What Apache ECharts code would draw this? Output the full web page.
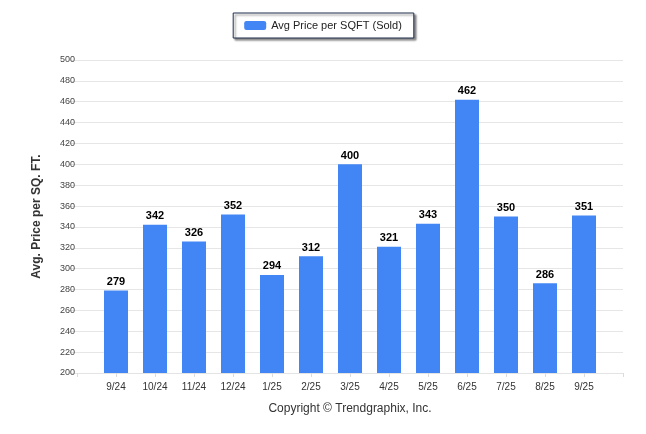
<!DOCTYPE html>
<html>
<head>
<meta charset="utf-8">
<script src="https://cdn.jsdelivr.net/npm/echarts@6/dist/echarts.min.js"></script>
<style>
html,body{margin:0;padding:0;background:#fff;}
#chart{width:646px;height:434px;}
</style>
</head>
<body>
<div id="chart"></div>
<script>
const categories = ['9/24','10/24','11/24','12/24','1/25','2/25','3/25','4/25','5/25','6/25','7/25','8/25','9/25'];
const avgPriceSold = [279,342,326,352,294,312,400,321,343,462,350,286,351];
const yMin = 200, yMax = 500, yStep = 20;
const seriesName = 'Avg Price per SQFT (Sold)';
const yTitle = 'Avg. Price per SQ. FT.';
const copyright = 'Copyright \u00A9 Trendgraphix, Inc.';

const axisCats = [''].concat(categories, ['']);
const barData = ['-'].concat(avgPriceSold, ['-']);

const chart = echarts.init(document.getElementById('chart'));
const font = '"Liberation Sans", Arial, sans-serif';
chart.setOption({
  animation: false,
  textStyle: {fontFamily: font},
  legend: {
    top: 13, left: 'center',
    data: [seriesName],
    itemWidth: 22, itemHeight: 9,
    padding: [7, 12, 7, 11],
    borderColor: '#1f2d4d', borderWidth: 1,
    shadowColor: 'rgba(0,0,0,0.45)', shadowBlur: 2, shadowOffsetX: 2, shadowOffsetY: 2,
    backgroundColor: '#fff',
    textStyle: {fontSize: 11, color: '#222', fontFamily: font}
  },
  grid: {left: 77, right: 23, top: 60, bottom: 61, containLabel: false},
  xAxis: {
    type: 'category',
    data: axisCats,
    boundaryGap: false,
    axisLine: {lineStyle: {color: '#e3e3e3'}},
    axisTick: {show: true, length: 4, lineStyle: {color: '#dcdcdc'}},
    axisLabel: {fontSize: 10, color: '#333', margin: 9, interval: 0, fontFamily: font},
    splitLine: {show: false}
  },
  yAxis: {
    type: 'value',
    min: yMin, max: yMax, interval: yStep,
    name: yTitle,
    nameLocation: 'middle',
    nameGap: 34,
    nameTextStyle: {fontSize: 12, fontWeight: 'bold', color: '#333', fontFamily: font},
    axisLine: {show: false},
    axisTick: {show: true, length: 8, lineStyle: {color: '#e6e6e6'}},
    axisLabel: {fontSize: 9, color: '#444', margin: 2, fontFamily: font},
    splitLine: {lineStyle: {color: '#e6e6e6'}}
  },
  series: [{
    name: seriesName,
    type: 'bar',
    data: barData,
    barWidth: 24,
    itemStyle: {color: '#4285f4'},
    label: {show: true, position: 'top', distance: 3, fontSize: 11, fontWeight: 'bold', color: '#000', fontFamily: font}
  }],
  graphic: [{
    type: 'text',
    x: 350, y: 409,
    style: {text: copyright, fontSize: 12, fill: '#333', fontFamily: font, align: 'center', verticalAlign: 'middle'}
  }]
});
</script>
</body>
</html>
